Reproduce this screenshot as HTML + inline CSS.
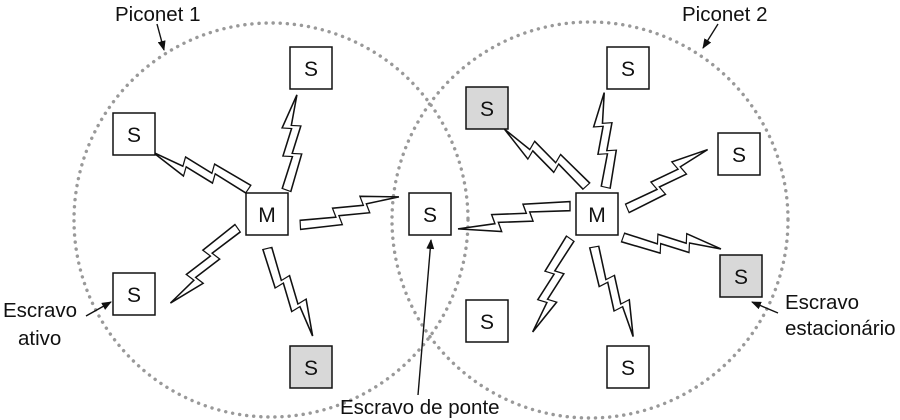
<!DOCTYPE html>
<html><head><meta charset="utf-8"><style>
html,body{margin:0;padding:0;background:#fff;}
svg{display:block;}
text{font-family:"Liberation Sans",Arial,sans-serif;fill:#111;}
</style></head><body>
<svg width="900" height="420" viewBox="0 0 900 420" xmlns="http://www.w3.org/2000/svg">
<defs>
<marker id="ah" markerWidth="10" markerHeight="8" refX="9" refY="4" orient="auto" markerUnits="userSpaceOnUse">
<path d="M0,0 L10,4 L0,8 z" fill="#111"/>
</marker>
<polygon id="bolt" points="0,4 36,3 33,-4 64,-5 61,-12 100,-10 67,-6 70,1 39,2 42,9 0,11"/>
</defs>
<circle cx="271" cy="220" r="197" fill="none" stroke="#999" stroke-width="3.4" stroke-dasharray="0.1 7" stroke-linecap="round"/>
<circle cx="590" cy="220" r="198" fill="none" stroke="#999" stroke-width="3.4" stroke-dasharray="0.1 7" stroke-linecap="round"/>

<g fill="#fff" stroke="#111" stroke-width="1.2">
<g transform="translate(245,194) rotate(-146) scale(1.0,1.3) translate(0,-3)"><use href="#bolt"/></g>
<g transform="translate(281,188) rotate(-70) scale(0.93,1.3) translate(0,-3)"><use href="#bolt"/></g>
<g transform="translate(241,233) rotate(145) scale(0.98,1.3) translate(0,-3)"><use href="#bolt"/></g>
<g transform="translate(273,247) rotate(76) scale(0.96,1.3) translate(0,-3)"><use href="#bolt"/></g>
<g transform="translate(300,219) rotate(-3) scale(1.0,1.3) translate(0,-3)"><use href="#bolt"/></g>
<g transform="translate(570,212) rotate(180) scale(1.12,1.3) translate(0,-3)"><use href="#bolt"/></g>
<g transform="translate(582,190) rotate(-132) scale(0.97,1.3) translate(0,-3)"><use href="#bolt"/></g>
<g transform="translate(600,186) rotate(-77) scale(0.92,1.3) translate(0,-3)"><use href="#bolt"/></g>
<g transform="translate(625,203) rotate(-23) scale(0.97,1.3) translate(0,-3)"><use href="#bolt"/></g>
<g transform="translate(625,232) rotate(20) scale(0.96,1.3) translate(0,-3)"><use href="#bolt"/></g>
<g transform="translate(575,242) rotate(125) scale(0.98,1.3) translate(0,-3)"><use href="#bolt"/></g>
<g transform="translate(600,246) rotate(80) scale(0.95,1.3) translate(0,-3)"><use href="#bolt"/></g>
</g>

<g stroke="#111" stroke-width="1.5">
<rect x="113" y="113" width="42" height="42" fill="#fff"/>
<rect x="290" y="47" width="42" height="42" fill="#fff"/>
<rect x="246" y="193" width="42" height="42" fill="#fff"/>
<rect x="113" y="273" width="42" height="42" fill="#fff"/>
<rect x="290" y="346" width="42" height="42" fill="#d8d8d8"/>
<rect x="409" y="193" width="42" height="42" fill="#fff"/>
<rect x="576" y="193" width="42" height="42" fill="#fff"/>
<rect x="466" y="87" width="42" height="42" fill="#d8d8d8"/>
<rect x="607" y="47" width="42" height="42" fill="#fff"/>
<rect x="718" y="133" width="42" height="42" fill="#fff"/>
<rect x="720" y="255" width="42" height="42" fill="#d8d8d8"/>
<rect x="466" y="300" width="42" height="42" fill="#fff"/>
<rect x="607" y="346" width="42" height="42" fill="#fff"/>
</g>
<g font-size="21" text-anchor="middle">
<text x="134" y="142">S</text>
<text x="311" y="76">S</text>
<text x="267" y="222">M</text>
<text x="134" y="302">S</text>
<text x="311" y="375">S</text>
<text x="430" y="222">S</text>
<text x="597" y="222">M</text>
<text x="487" y="116">S</text>
<text x="628" y="76">S</text>
<text x="739" y="162">S</text>
<text x="741" y="284">S</text>
<text x="487" y="329">S</text>
<text x="628" y="375">S</text>
</g>

<g stroke="#111" stroke-width="1.4" fill="none">
<line x1="157" y1="24" x2="164" y2="50" marker-end="url(#ah)"/>
<line x1="718" y1="24" x2="703" y2="48" marker-end="url(#ah)"/>
<line x1="86" y1="316" x2="111" y2="302" marker-end="url(#ah)"/>
<line x1="778" y1="313" x2="752" y2="302" marker-end="url(#ah)"/>
<line x1="418" y1="395" x2="431" y2="240" marker-end="url(#ah)"/>
</g>
<g font-size="20.5">
<text x="115" y="21">Piconet 1</text>
<text x="682" y="21">Piconet 2</text>
<text x="3" y="317">Escravo</text>
<text x="18" y="345">ativo</text>
<text x="785" y="309">Escravo</text>
<text x="785" y="335">estacionário</text>
<text x="340" y="414">Escravo de ponte</text>
</g>
</svg>
</body></html>
